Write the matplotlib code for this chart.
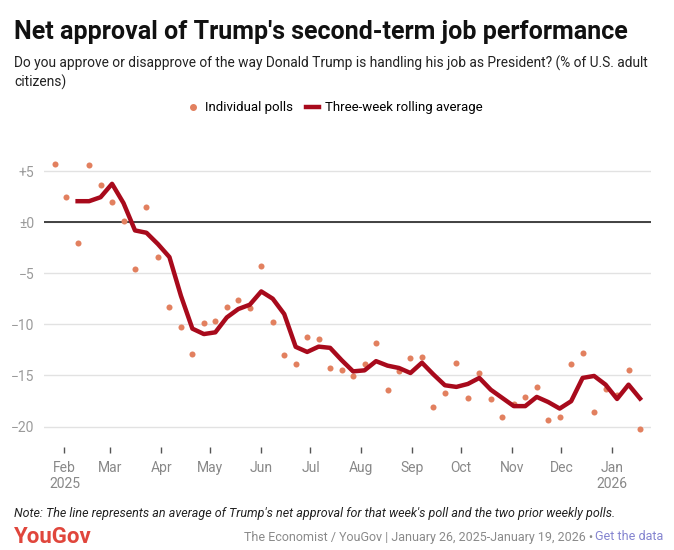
import pandas as pd
import numpy as np
from matplotlib import pyplot as plt
from matplotlib.lines import Line2D

plt.rcParams['font.family'] = ['Roboto', 'DejaVu Sans']

# weekly Economist/YouGov polls, net approval
poll_dates = pd.date_range('2025-01-26', periods=52, freq='7D')
polls = [5.67, 2.48, -2.02, 5.6, 3.68, 1.99, 0.13, -4.63, 1.47, -3.45,
         -8.3, -10.3, -12.9, -9.84, -9.7, -8.34, -7.59, -8.44, -4.27, -9.8,
         -13.0, -13.84, -11.24, -11.47, -14.23, -14.5, -15.02, -13.9, -11.86, -16.4,
         -14.56, -13.32, -13.19, -18.08, -16.68, -13.78, -17.17, -14.79, -17.3, -19.02,
         -17.8, -17.1, -16.16, -19.35, -19.1, -13.88, -12.83, -18.6, -16.32, -16.95,
         -14.46, -20.23]
# three-week rolling average, starts at the third poll
rolling_avg = [2.05, 2.05, 2.44, 3.75, 1.86, -0.81, -1.04, -2.15, -3.42, -7.2,
               -10.42, -10.95, -10.78, -9.32, -8.5, -8.08, -6.78, -7.49, -8.99, -12.2,
               -12.7, -12.18, -12.3, -13.5, -14.6, -14.5, -13.6, -14.04, -14.27, -14.76,
               -13.75, -14.9, -15.96, -16.12, -15.83, -15.24, -16.4, -17.2, -18.0, -18.0,
               -17.1, -17.6, -18.24, -17.52, -15.24, -15.05, -15.9, -17.3, -15.9, -17.26]

y_ticks = [5, 0, -5, -10, -15, -20]
y_labels = ['+5', '±0', '−5', '−10', '−15', '−20']
month_ticks = pd.date_range('2025-02-01', '2026-01-01', freq='MS')
month_labels = ['Feb\n2025', 'Mar', 'Apr', 'May', 'Jun', 'Jul', 'Aug',
                'Sep', 'Oct', 'Nov', 'Dec', 'Jan\n2026']

dot_color = '#E2805F'
line_color = '#A80A1C'

W, H = 674, 550
fig = plt.figure(figsize=(W / 100, H / 100), dpi=100)
ax = fig.add_axes([44 / W, 1 - 447 / H, 607 / W, 296.4 / H])

feb1 = pd.Timestamp('2025-02-01')
ax.set_xlim(feb1 - pd.Timedelta(days=12.5), feb1 + pd.Timedelta(days=357.7))
ax.set_ylim(-22, 7)

ax.scatter(poll_dates, polls, s=19, color=dot_color, linewidths=0, zorder=3)
ax.plot(poll_dates[2:], rolling_avg, color=line_color, lw=3.2, zorder=4)

ax.set_yticks(y_ticks, y_labels)
ax.yaxis.grid(True, color='#e2e2e2', lw=1)
ax.axhline(0, color='#333333', lw=1.3, zorder=2)
ax.set_xticks(month_ticks, month_labels)

for s in ax.spines.values():
    s.set_visible(False)
ax.tick_params(axis='y', length=0, pad=7, labelcolor='#9a9a9a', labelsize=10)
ax.tick_params(axis='x', length=4, width=1, color='#555555', pad=6,
               labelcolor='#888888', labelsize=10)

# header
fig.text(14 / W, 1 - 32 / H, "Net approval of Trump's second-term job performance",
         fontsize=18, fontweight='bold', va='center', color='#111111')
fig.text(14 / W, 1 - 63 / H,
         "Do you approve or disapprove of the way Donald Trump is handling his job as President? (% of U.S. adult",
         fontsize=9.9, va='center', color='#222222')
fig.text(14 / W, 1 - 82 / H, "citizens)", fontsize=9.9, va='center', color='#222222')

handles = [Line2D([], [], marker='o', ls='none', color=dot_color, markersize=4),
           Line2D([], [], color=line_color, lw=3.2)]
fig.legend(handles, ['Individual polls', 'Three-week rolling average'],
           loc='center', bbox_to_anchor=(0.496, 1 - 108 / H), ncol=2, frameon=False,
           fontsize=9.5, handlelength=1.0, handletextpad=0.4, columnspacing=1.0)

# footer
fig.text(14 / W, 1 - 514 / H,
         "Note: The line represents an average of Trump's net approval for that week's poll and the two prior weekly polls.",
         fontsize=9.0, style='italic', va='center', color='#222222')
fig.text(14 / W, 1 - 537 / H, 'YouGov', fontsize=16, fontweight='bold',
         va='center', color='#E0463C')
link = fig.text(663 / W, 1 - 537 / H, 'Get the data', ha='right', va='center',
                fontsize=9, color='#8484D0')
bb = link.get_window_extent(fig.canvas.get_renderer())
fig.text((bb.x0 - 2) / W, 1 - 537 / H,
         'The Economist / YouGov | January 26, 2025-January 19, 2026 •',
         ha='right', va='center', fontsize=9, color='#8a8a8a')

fig.savefig('out.png', dpi=100)
